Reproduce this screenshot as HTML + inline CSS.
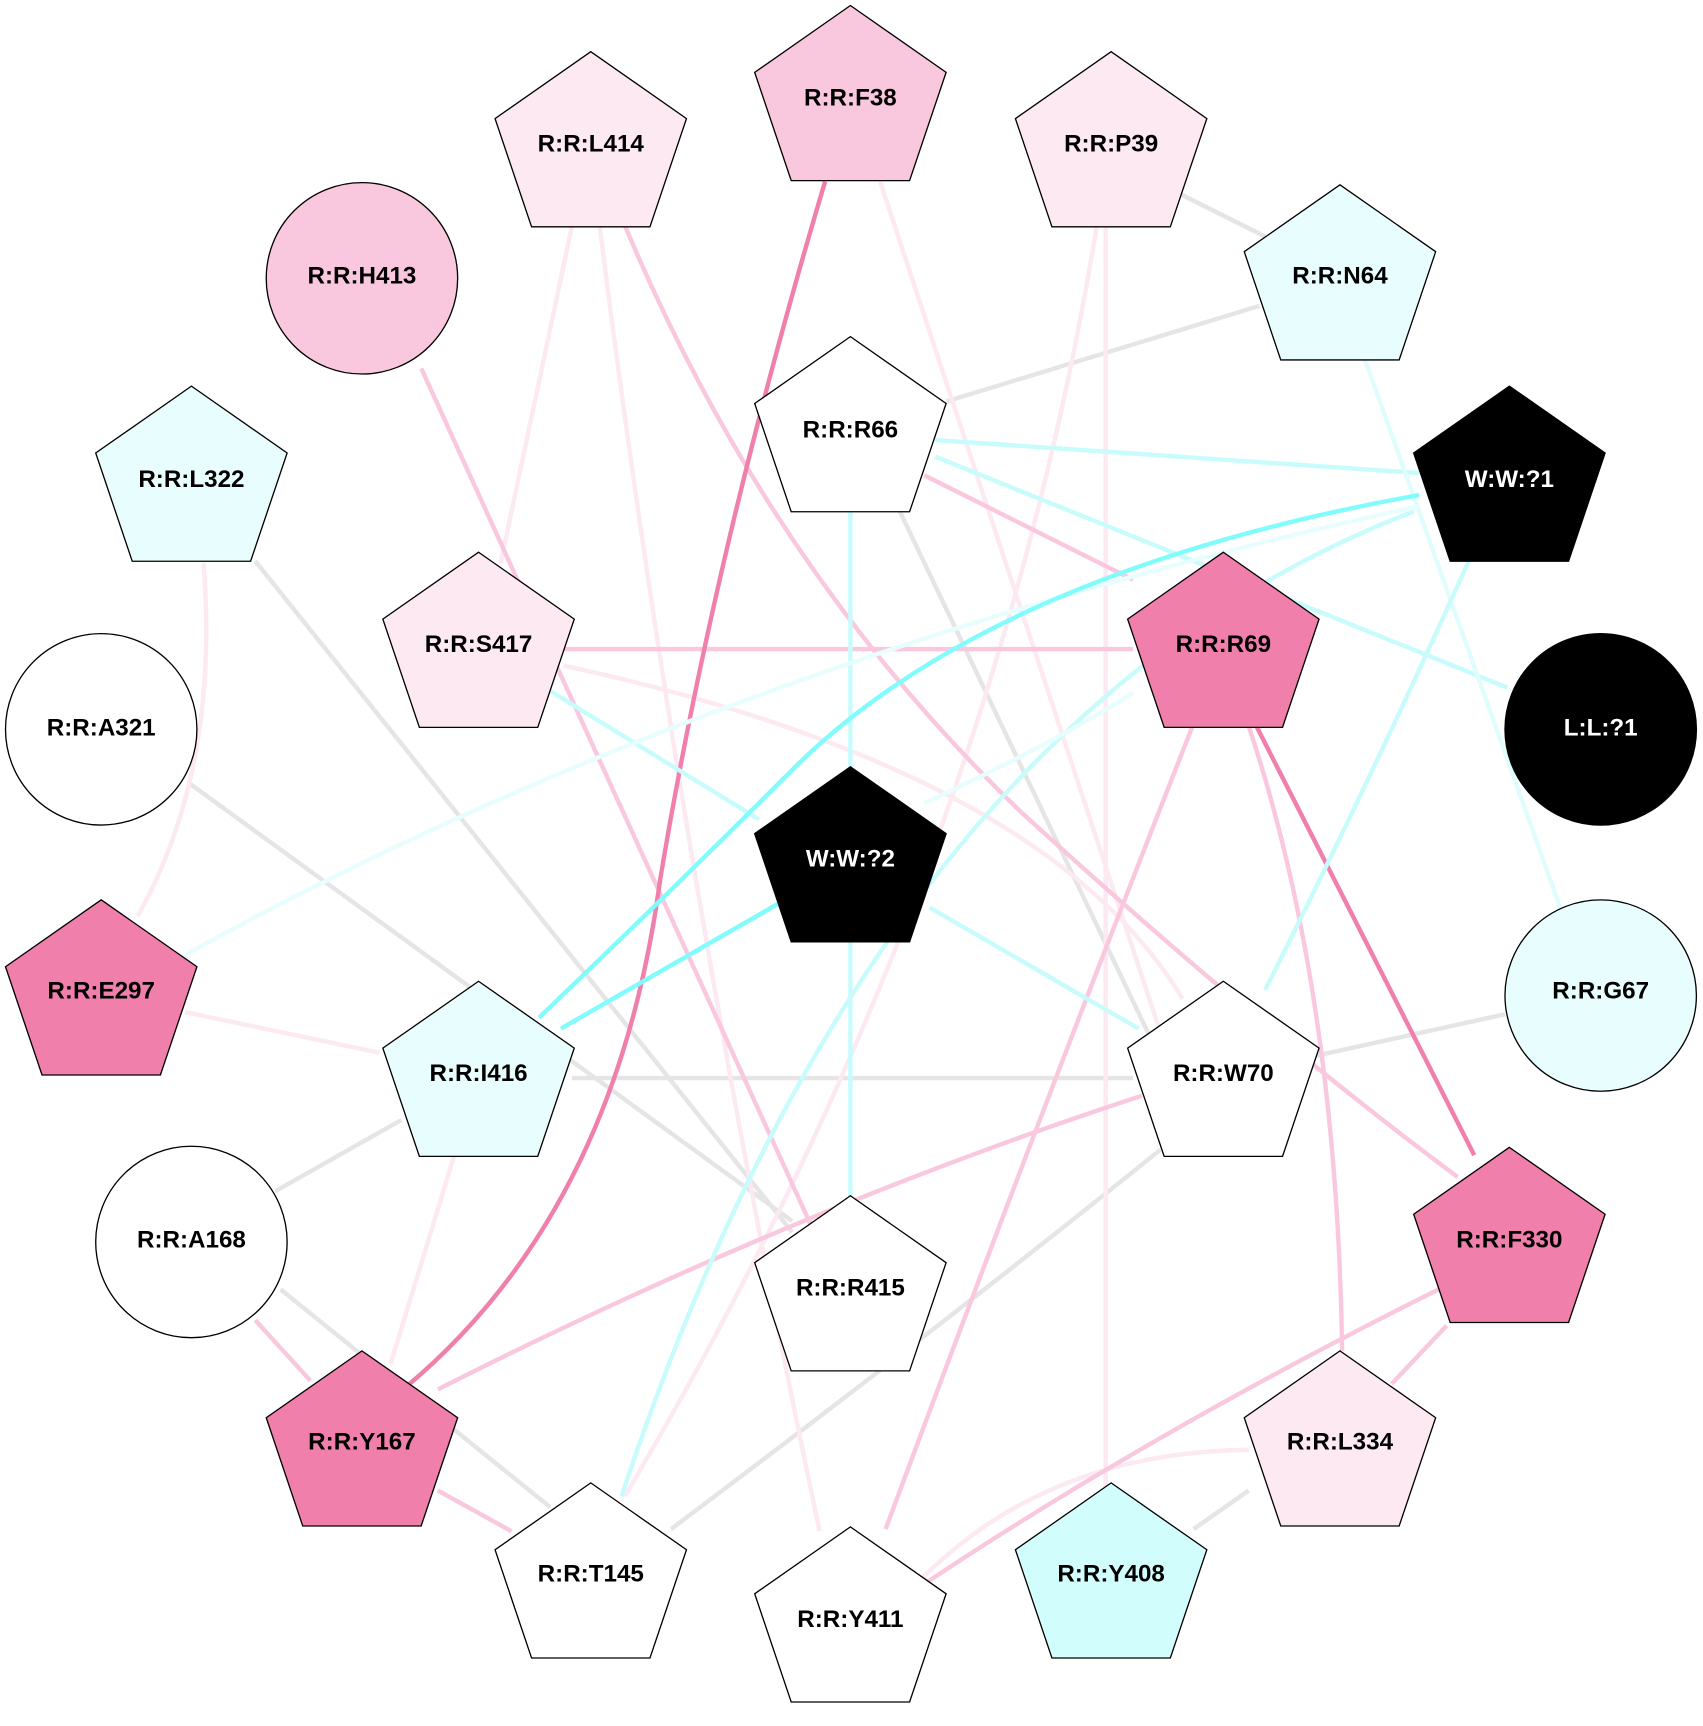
<!DOCTYPE html>
<html><head><meta charset="utf-8"><style>
html,body{margin:0;padding:0;background:#fff;}
svg{display:block;}
text{font-family:"Liberation Sans",Arial,sans-serif;font-weight:bold;font-size:22px;text-anchor:middle;dominant-baseline:central;}
</style></head><body>
<svg width="1703" height="1726" viewBox="0 0 1548 1569" preserveAspectRatio="none" xmlns="http://www.w3.org/2000/svg">
<defs>
<polygon id="pg" points="0,-88 87,-27.2 53.8,71.2 -53.8,71.2 -87,-27.2" stroke="#000" stroke-width="1.2"/>
</defs>
<g fill="none" stroke-width="4">
<!-- gray -->
<line x1="1070" y1="175" x2="1150" y2="215" stroke="#e5e5e5"/>
<line x1="1145" y1="278" x2="860" y2="365" stroke="#e5e5e5"/>
<line x1="818" y1="465" x2="1075" y2="1005" stroke="#e5e5e5"/>
<line x1="232" y1="510" x2="720" y2="1120" stroke="#e5e5e5"/>
<line x1="172" y1="712" x2="720" y2="1110" stroke="#e5e5e5"/>
<line x1="1368" y1="922" x2="1195" y2="960" stroke="#e5e5e5"/>
<line x1="520" y1="980" x2="1030" y2="980" stroke="#e5e5e5"/>
<line x1="250" y1="1083" x2="365" y2="1018" stroke="#e5e5e5"/>
<line x1="255" y1="1172" x2="500" y2="1370" stroke="#e5e5e5"/>
<path d="M1055,1045 Q850,1210 610,1390" stroke="#e5e5e5"/>
<line x1="1135" y1="1355" x2="1085" y2="1390" stroke="#e5e5e5"/>
<!-- very light pink -->
<line x1="800" y1="165" x2="1075" y2="1000" stroke="#fce9f1"/>
<line x1="520" y1="205" x2="455" y2="512" stroke="#fce9f1"/>
<path d="M545,205 Q620,800 745,1392" stroke="#fce9f1"/>
<path d="M997,205 Q900,800 568,1360" stroke="#fce9f1"/>
<path d="M1005,205 Q1005,800 1005,1352" stroke="#fce9f1"/>
<path d="M185,512 Q200,700 125,833" stroke="#fce9f1"/>
<path d="M512,605 Q950,700 1075,908" stroke="#fce9f1"/>
<line x1="168" y1="920" x2="345" y2="957" stroke="#fce9f1"/>
<line x1="413" y1="1050" x2="355" y2="1240" stroke="#fce9f1"/>
<path d="M1135,1318 Q950,1320 835,1438" stroke="#fce9f1"/>
<!-- light pink -->
<path d="M568,205 Q700,520 930,740 Q1150,940 1325,1070" stroke="#f9c8de"/>
<line x1="383" y1="335" x2="740" y2="1120" stroke="#f9c8de"/>
<line x1="840" y1="432" x2="1030" y2="527" stroke="#f9c8de"/>
<line x1="512" y1="590" x2="1030" y2="590" stroke="#f9c8de"/>
<path d="M1088,650 Q950,1000 805,1390" stroke="#f9c8de"/>
<path d="M1135,660 Q1215,900 1220,1228" stroke="#f9c8de"/>
<path d="M1038,996 Q720,1100 398,1263" stroke="#f9c8de"/>
<line x1="232" y1="1200" x2="282" y2="1255" stroke="#f9c8de"/>
<line x1="398" y1="1355" x2="465" y2="1392" stroke="#f9c8de"/>
<path d="M1312,1170 Q1050,1300 840,1440" stroke="#f9c8de"/>
<line x1="1315" y1="1205" x2="1265" y2="1258" stroke="#f9c8de"/>
<!-- dark pink -->
<path d="M750,165 Q650,500 600,800 Q560,1100 370,1260" stroke="#f07fac"/>
<line x1="1142" y1="660" x2="1340" y2="1050" stroke="#f07fac"/>
<!-- cyan -->
<line x1="850" y1="400" x2="1290" y2="430" stroke="#c8fcfc"/>
<line x1="850" y1="415" x2="1370" y2="625" stroke="#c8fcfc"/>
<line x1="773" y1="465" x2="773" y2="1088" stroke="#c8fcfc"/>
<line x1="1240" y1="325" x2="1420" y2="830" stroke="#e0fdfd"/>
<line x1="500" y1="628" x2="690" y2="745" stroke="#c8fcfc"/>
<line x1="845" y1="825" x2="1035" y2="935" stroke="#c8fcfc"/>
<path d="M1335,510 Q1250,700 1150,900" stroke="#c8fcfc"/>
<path d="M1285,465 Q800,650 565,1360" stroke="#c8fcfc"/>
<path d="M1290,460 Q650,600 165,870" stroke="#e8fdfd"/>
<path d="M840,730 Q950,680 1030,630" stroke="#e8fdfd"/>
<path d="M1290,450 Q900,520 720,700 Q600,820 490,925" stroke="#80fcfc"/>
<line x1="710" y1="820" x2="510" y2="935" stroke="#80fcfc"/>
</g>
<g>
<use href="#pg" x="773" y="93" fill="#f9c8de"/><text x="773" y="89">R:R:F38</text>
<use href="#pg" x="537" y="135" fill="#fce9f1"/><text x="537" y="131">R:R:L414</text>
<use href="#pg" x="1010" y="135" fill="#fce9f1"/><text x="1010" y="131">R:R:P39</text>
<circle cx="329" cy="253" r="87" fill="#f9c8de" stroke="#000" stroke-width="1.2"/><text x="329" y="251">R:R:H413</text>
<use href="#pg" x="1218" y="256" fill="#e8fdfd"/><text x="1218" y="251">R:R:N64</text>
<use href="#pg" x="773" y="394" fill="#fff"/><text x="773" y="391">R:R:R66</text>
<use href="#pg" x="174" y="439" fill="#e8fdfd"/><text x="174" y="436">R:R:L322</text>
<use href="#pg" x="1372" y="439" fill="#000"/><text x="1372" y="436" fill="#fff">W:W:?1</text>
<use href="#pg" x="435" y="590" fill="#fce9f1"/><text x="435" y="586">R:R:S417</text>
<use href="#pg" x="1112" y="590" fill="#f07fac"/><text x="1112" y="586">R:R:R69</text>
<circle cx="92" cy="663" r="87" fill="#fff" stroke="#000" stroke-width="1.2"/><text x="92" y="662">R:R:A321</text>
<circle cx="1455" cy="663" r="87" fill="#000" stroke="#000" stroke-width="1.2"/><text x="1455" y="662" fill="#fff">L:L:?1</text>
<use href="#pg" x="773" y="785" fill="#000"/><text x="773" y="781" fill="#fff">W:W:?2</text>
<use href="#pg" x="92" y="906" fill="#f07fac"/><text x="92" y="901">R:R:E297</text>
<circle cx="1455" cy="905" r="87" fill="#e8fdfd" stroke="#000" stroke-width="1.2"/><text x="1455" y="901">R:R:G67</text>
<use href="#pg" x="435" y="980" fill="#e8fdfd"/><text x="435" y="976">R:R:I416</text>
<use href="#pg" x="1112" y="980" fill="#fff"/><text x="1112" y="976">R:R:W70</text>
<circle cx="174" cy="1129" r="87" fill="#fff" stroke="#000" stroke-width="1.2"/><text x="174" y="1127">R:R:A168</text>
<use href="#pg" x="1372" y="1131" fill="#f07fac"/><text x="1372" y="1127">R:R:F330</text>
<use href="#pg" x="773" y="1175" fill="#fff"/><text x="773" y="1171">R:R:R415</text>
<use href="#pg" x="329" y="1316" fill="#f07fac"/><text x="329" y="1311">R:R:Y167</text>
<use href="#pg" x="1218" y="1316" fill="#fce9f1"/><text x="1218" y="1311">R:R:L334</text>
<use href="#pg" x="537" y="1436" fill="#fff"/><text x="537" y="1431">R:R:T145</text>
<use href="#pg" x="1010" y="1436" fill="#d2fdfd"/><text x="1010" y="1431">R:R:Y408</text>
<use href="#pg" x="773" y="1476" fill="#fff"/><text x="773" y="1472">R:R:Y411</text>
</g>
</svg>
</body></html>
